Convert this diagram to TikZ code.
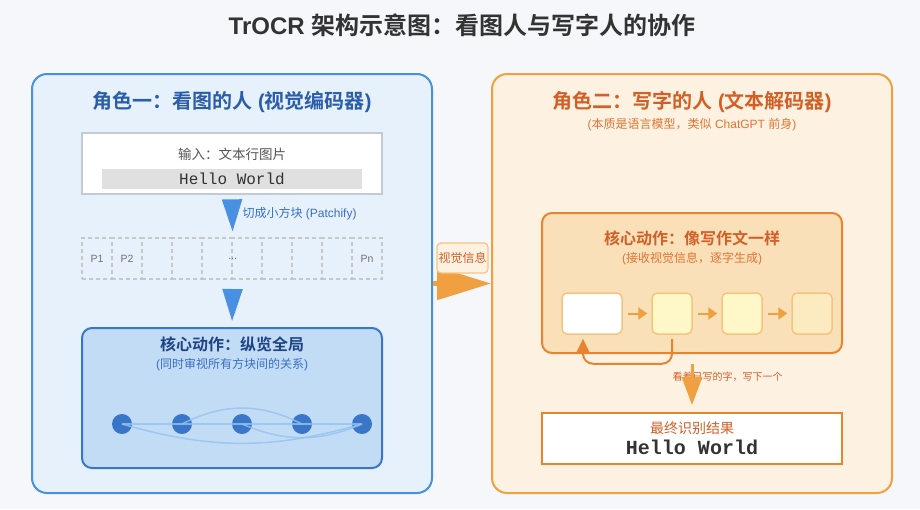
\documentclass[tikz,border=0pt]{standalone}
\usepackage{fontspec}
\setmainfont{Liberation Sans}
\newfontfamily\cjk{Noto Sans CJK SC}[BoldFont={Noto Sans CJK SC Bold}]
\newfontfamily\monofont{Liberation Mono}
\usetikzlibrary{arrows.meta,positioning}

\definecolor{pagebg}{HTML}{F5F7FA}
\definecolor{encfill}{HTML}{E6F1FC}
\definecolor{encline}{HTML}{4A90E2}
\definecolor{enctext}{HTML}{2C5DAA}
\definecolor{encsub}{HTML}{3A6FC4}
\definecolor{corefill}{HTML}{C3DCF5}
\definecolor{coreline}{HTML}{3A76C8}
\definecolor{coretext}{HTML}{1E4488}
\definecolor{linkline}{HTML}{93C2F0}
\definecolor{decfill}{HTML}{FDF2E2}
\definecolor{decline}{HTML}{F0A040}
\definecolor{dectext}{HTML}{D35F27}
\definecolor{decsub}{HTML}{E27434}
\definecolor{dcorefill}{HTML}{FAE0B8}
\definecolor{dcoreline}{HTML}{E8832F}
\definecolor{tokline}{HTML}{F7C47E}
\definecolor{tokfill}{HTML}{FEF7C8}
\definecolor{tokfade}{HTML}{FCEBC0}
\definecolor{inputline}{HTML}{C2CAD3}
\definecolor{bargray}{HTML}{E0E0E0}
\definecolor{darktext}{HTML}{333333}
\definecolor{graytext}{HTML}{555555}

\tikzset{
  fs/.style={font=\fontsize{#1pt}{#1pt}\selectfont},
  cfs/.style={font=\cjk\fontsize{#1pt}{#1pt}\selectfont},
  panel/.style={draw, line width=2pt, rounded corners=15pt, minimum width=400pt, minimum height=419pt, inner sep=0pt},
  corebox/.style={draw, line width=2pt, rounded corners=10pt, minimum width=300pt, minimum height=140pt, inner sep=0pt},
  patch/.style={draw=black!22, line width=1.3pt, dash pattern=on 4pt off 3pt, minimum width=30pt, minimum height=41pt, inner sep=0pt},
  patchtxt/.style={fs=10.5, text=black!55},
  dot/.style={circle, fill=coreline, minimum size=20pt, inner sep=0pt},
  link/.style={linkline, line width=1.5pt, opacity=0.8},
  token/.style={draw=tokline, line width=1.5pt, rounded corners=5pt, minimum width=40pt, minimum height=41pt, inner sep=0pt},
  downarrow/.style={encline, line width=2pt, -{Triangle[width=20pt,length=32pt]}},
  tokarrow/.style={decline, line width=2pt, -{Triangle[width=12pt,length=9pt]}},
  backflow/.style={dcoreline, line width=2pt, rounded corners=10pt, -{Triangle[width=14pt,length=15pt]}},
  handoff/.style={decline, line width=5pt, -{Triangle[width=32pt,length=54pt]}},
  resultarrow/.style={decline, line width=3pt, -{Triangle[width=20pt,length=28pt]}}
}

\begin{document}
\begin{tikzpicture}[x=1pt,y=-1pt]
    \fill[pagebg] (0,0) rectangle (920,509);
    \useasboundingbox (0,0) rectangle (920,509);

    \node[fs=24, text=darktext] (title) at (462,25) {\bfseries TrOCR {\cjk 架构示意图：看图人与写字人的协作}};

    % Vision encoder
    \node[panel, draw=encline, fill=encfill] (enc) at (232,283.5) {};
    \node[fs=20, text=enctext] (enctitle) at (232,102) {\bfseries{\cjk 角色一：看图的人} ({\cjk 视觉编码器})};

    \node[draw=inputline, line width=2pt, fill=white, minimum width=300pt, minimum height=61pt, inner sep=0pt] (input) at (232,163.5) {};
    \node[cfs=13.5, text=graytext] (inputtxt) at (232,154) {输入：文本行图片};
    \node[fill=bargray, minimum width=260pt, minimum height=20pt, inner sep=0pt, font=\monofont\fontsize{16pt}{16pt}\selectfont, text=darktext] (inputbar) at (232,179) {Hello World};

    \foreach \i in {1,...,10} {
        \node[patch] (p\i) at (67+30*\i,258.5) {};
    }
    \node[patchtxt] at (p1) {P1};
    \node[patchtxt] at (p2) {P2};
    \node[patchtxt] at (p5.east) {...};
    \node[patchtxt] at (p10) {Pn};

    \draw[downarrow, shorten <=5pt, shorten >=6pt] (input.south) -- (p5.north east);
    \node[fs=12, text=encsub, anchor=west] (patchify) at (239,214) {{\cjk 切成小方块} (Patchify)};

    \node[corebox, draw=coreline, fill=corefill] (core1) at (232,398) {};
    \draw[downarrow, shorten <=11pt, shorten >=6pt] (p5.south east) -- (core1.north);
    \node[cfs=16, text=coretext] (core1title) at (232,344) {\bfseries 核心动作：纵览全局};
    \node[fs=12, text=encsub] (core1sub) at (232,365) {({\cjk 同时审视所有方块间的关系})};

    \foreach \i in {1,...,5} {
        \node[dot] (d\i) at (62+60*\i,424) {};
    }
    \draw[link] (d1.center) -- (d5.center);
    \draw[link] (d2.center) to[bend left=27] (d4.center);
    \draw[link] (d1.center) to[bend right=16] (d5.center);
    \draw[link] (d3.center) to[bend right=23] (d5.center);

    % Text decoder
    \node[panel, draw=decline, fill=decfill] (dec) at (692,283.5) {};
    \node[fs=20, text=dectext] (dectitle) at (692,102) {\bfseries{\cjk 角色二：写字的人} ({\cjk 文本解码器})};
    \node[fs=12, text=decsub] (decsub) at (692,125) {({\cjk 本质是语言模型，类似} ChatGPT {\cjk 前身})};

    \node[corebox, draw=dcoreline, fill=dcorefill] (core2) at (692,283) {};
    \node[cfs=16, text=dectext] (core2title) at (692,238) {\bfseries 核心动作：像写作文一样};
    \node[fs=12, text=decsub] (core2sub) at (692,259) {({\cjk 接收视觉信息，逐字生成})};

    \node[token, fill=white, minimum width=60pt] (t1) at (592,313.5) {};
    \node[token, fill=tokfill] (t2) at (672,313.5) {};
    \node[token, fill=tokfill] (t3) at (742,313.5) {};
    \node[token, fill=tokfade] (t4) at (812,313.5) {};
    \draw[tokarrow, shorten <=5pt, shorten >=4pt] (t1) -- (t2);
    \draw[tokarrow, shorten <=5pt, shorten >=4pt] (t2) -- (t3);
    \draw[tokarrow, shorten <=5pt, shorten >=4pt] (t3) -- (t4);
    \draw[backflow] ([yshift=-4pt]t2.south) -- ++(0,25) -| ([xshift=-9pt,yshift=-4pt]t1.south);

    \node[draw=dcoreline, line width=2pt, fill=white, minimum width=300pt, minimum height=51pt, inner sep=0pt] (result) at (692,438.5) {};
    \node[cfs=14, text=dectext] (resulttxt) at (692,428) {最终识别结果};
    \node[font=\monofont\bfseries\fontsize{20pt}{20pt}\selectfont, text=darktext] (resultword) at (692,447) {Hello World};

    \node[cfs=10, text=dectext] (steplabel) at (727.5,377) {看着已写的字，写下一个};
    \draw[resultarrow] ([yshift=-10pt]core2.south) -- ([yshift=7pt]result.north);

    % Hand-off between the two
    \draw[handoff] (enc.east) -- (dec.west);
    \node[draw=tokline, line width=1.2pt, fill=decfill, rounded corners=4pt, minimum width=51pt, minimum height=30pt, inner sep=0pt, cfs=12, text=dectext] (handofflabel) at (462.5,258) {视觉信息};
\end{tikzpicture}
\end{document}
